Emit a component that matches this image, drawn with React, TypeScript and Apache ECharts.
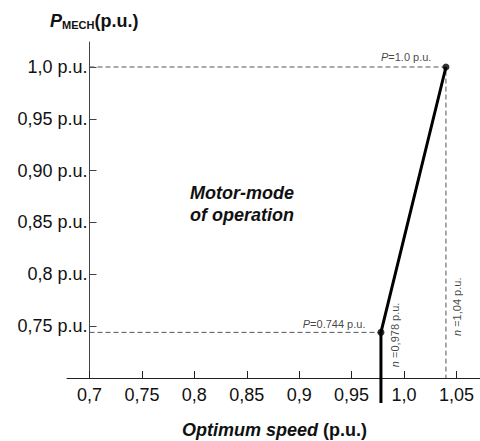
import React, { useEffect, useRef } from "react";
import * as echarts from "echarts";

const xTickValues = [0.7, 0.75, 0.8, 0.85, 0.9, 0.95, 1.0, 1.05];
const xTickLabels = ["0,7", "0,75", "0,8", "0,85", "0,9", "0,95", "1,0", "1,05"];
const yTickValues = [0.75, 0.8, 0.85, 0.9, 0.95, 1.0];
const yTickLabels = ["0,75 p.u.", "0,8 p.u.", "0,85 p.u.", "0,90 p.u.", "0,95 p.u.", "1,0 p.u."];

const xMin = 0.6785;
const xMax = 1.0725;
const yMin = 0.7;
const yMax = 1.0241;
const yAxisAt = 0.7;

// operating characteristic: [speed, power]
const curveBelow = [0.978, 0.676];
const lowPoint = [0.978, 0.744];
const highPoint = [1.04, 1.0];
const lowPointLabel = "P=0.744 p.u.";
const highPointLabel = "P=1.0 p.u.";

// annotation anchors [speed, power]
const nLowAnchor = [0.9917, 0.7416];
const nHighAnchor = [1.0507, 0.7687];
const nLowText = "n =0,978 p.u.";
const nHighText = "n =1,04 p.u.";

const FONT = "'Liberation Sans', Arial, Helvetica, sans-serif";

export default function App() {
  const ref = useRef<HTMLDivElement>(null);
  useEffect(() => {
    const chart = echarts.init(ref.current!, null, { renderer: "svg" });
    const gridLeft = 67;
    const gridRight = 0;
    const gridWidth = 480 - gridLeft - gridRight;
    const yOffset = -((yAxisAt - xMin) / (xMax - xMin)) * gridWidth;

    const italicLabel = (t: string) => {
      const first = t.charAt(0);
      return `{i|${first}}{n|${t.slice(1)}}`;
    };
    const smallRich = {
      i: { fontStyle: "italic", fontSize: 11, color: "#111", fontFamily: FONT },
      n: { fontSize: 11, color: "#111", fontFamily: FONT },
    };

    chart.setOption({
      animation: false,
      backgroundColor: "#fff",
      textStyle: { fontFamily: FONT },
      grid: { left: gridLeft, right: gridRight, top: 42, bottom: 63 },
      title: [
        {
          text: "{i|Optimum speed} {b|(p.u.)}",
          left: 177,
          top: 416,
          textStyle: {
            rich: {
              i: { fontSize: 18, fontWeight: "bold", fontStyle: "italic", color: "#111", fontFamily: FONT },
              b: { fontSize: 18, fontWeight: "bold", color: "#111", fontFamily: FONT },
            },
          },
        },
      ],
      graphic: [
        {
          type: "text",
          left: 50,
          top: 12,
          style: {
            text: "{p|P}{s|MECH}{b|(p.u.)}",
            rich: {
              p: { font: `italic bold 18px ${FONT}`, fill: "#111", lineHeight: 21, verticalAlign: "bottom" },
              s: { font: `bold 11px ${FONT}`, fill: "#111", lineHeight: 16, verticalAlign: "bottom" },
              b: { font: `bold 18px ${FONT}`, fill: "#111", lineHeight: 21, verticalAlign: "bottom" },
            },
          },
        },
        {
          type: "text",
          left: 190,
          top: 182,
          style: {
            text: "Motor-mode\nof operation",
            font: `italic bold 18px ${FONT}`,
            fill: "#111",
            lineHeight: 22,
          },
        },
      ],
      xAxis: {
        type: "value",
        min: xMin,
        max: xMax,
        splitLine: { show: false },
        axisLine: { show: true, onZero: false, lineStyle: { color: "#222", width: 1 } },
        axisTick: { show: true, inside: true, length: 7, customValues: xTickValues, lineStyle: { color: "#222" } },
        axisLabel: {
          customValues: xTickValues,
          margin: 8,
          fontSize: 18,
          color: "#111",
          fontFamily: FONT,
          formatter: (v: number) => {
            const i = xTickValues.findIndex((t) => Math.abs(t - v) < 1e-6);
            return i >= 0 ? xTickLabels[i] : "";
          },
        },
      },
      yAxis: {
        type: "value",
        min: yMin,
        max: yMax,
        offset: yOffset,
        splitLine: { show: false },
        axisLine: { show: true, onZero: false, lineStyle: { color: "#444", width: 1 } },
        axisTick: { show: true, inside: true, length: 7, customValues: yTickValues, lineStyle: { color: "#444" } },
        axisLabel: {
          customValues: yTickValues,
          margin: 2,
          fontSize: 18,
          color: "#111",
          fontFamily: FONT,
          formatter: (v: number) => {
            const i = yTickValues.findIndex((t) => Math.abs(t - v) < 1e-6);
            return i >= 0 ? yTickLabels[i] : "";
          },
        },
      },
      series: [
        {
          type: "line",
          data: [[yAxisAt, highPoint[1]], [highPoint[0], highPoint[1]], [highPoint[0], yMin]],
          symbol: "none",
          lineStyle: { color: "#555", width: 1, type: [5, 3] },
          z: 1,
        },
        {
          type: "line",
          data: [[yAxisAt, lowPoint[1]], [lowPoint[0], lowPoint[1]]],
          symbol: "none",
          lineStyle: { color: "#555", width: 1, type: [5, 3] },
          z: 1,
        },
        {
          type: "line",
          data: [curveBelow, lowPoint, highPoint],
          symbol: "none",
          clip: false,
          lineStyle: { color: "#000", width: 3 },
          z: 3,
        },
        {
          type: "scatter",
          symbol: "circle",
          symbolSize: 7,
          itemStyle: { color: "#000" },
          z: 4,
          data: [
            {
              value: lowPoint,
              label: {
                show: true,
                formatter: italicLabel(lowPointLabel),
                position: [-12, -5],
                align: "right",
                verticalAlign: "middle",
                rich: smallRich,
              },
            },
            {
              value: highPoint,
              label: {
                show: true,
                formatter: italicLabel(highPointLabel),
                position: [-11, -6],
                align: "right",
                verticalAlign: "middle",
                rich: smallRich,
              },
            },
          ],
        },
        {
          type: "scatter",
          symbolSize: 0,
          silent: true,
          z: 4,
          data: [
            { value: nLowAnchor, label: { show: true, formatter: italicLabel(nLowText), position: "inside", rotate: 90, rich: smallRich } },
            { value: nHighAnchor, label: { show: true, formatter: italicLabel(nHighText), position: "inside", rotate: 90, rich: smallRich } },
          ],
        },
      ],
    });
    return () => chart.dispose();
  }, []);
  return (
    <div
      ref={ref}
      style={{ position: "fixed", left: 0, top: 0, width: 480, height: 441, background: "#fff" }}
    />
  );
}
